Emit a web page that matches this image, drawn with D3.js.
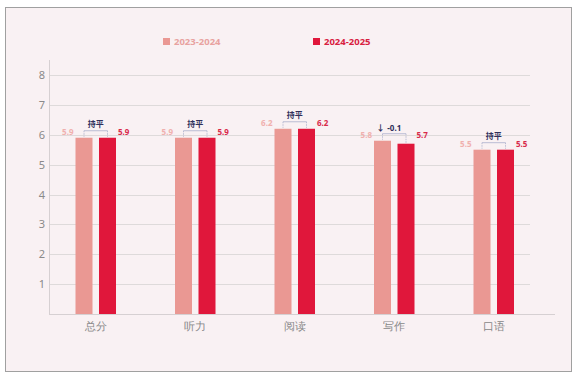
<!DOCTYPE html>
<html><head><meta charset="utf-8">
<script src="https://cdn.jsdelivr.net/npm/d3@7"></script>
<style>body{margin:0;background:#fff;}svg{display:block;font-family:"Noto Sans CJK SC","Noto Sans",sans-serif;}</style>
</head><body><svg id="c" width="578" height="379"></svg>
<script>
const categories = ["总分","听力","阅读","写作","口语"];
const series = ["2023-2024","2024-2025"];
const values2023 = [5.9,5.9,6.2,5.8,5.5];
const values2024 = [5.9,5.9,6.2,5.7,5.5];
const changeLabels = ["持平","持平","持平","-0.1","持平"];
const yTicks = [1,2,3,4,5,6,7,8];

const colors = ["#ea9893","#e0173b"];
const svg = d3.select("#c");
svg.append("rect").attr("x",5.5).attr("y",7.5).attr("width",566).attr("height",364)
  .attr("fill","#f9f1f3").attr("stroke","#a0a0a0").attr("stroke-width",1);

const x = d3.scaleBand().domain(categories).range([46,543.5]);
const y = d3.scaleLinear().domain([0,8]).range([314,75]);
const bw = 17, gap = 6.5;

// grid
svg.append("g").selectAll("line").data(yTicks).join("line")
  .attr("x1",49).attr("x2",530).attr("y1",d=>Math.round(y(d))+0.5).attr("y2",d=>Math.round(y(d))+0.5)
  .attr("stroke","#dedada").attr("stroke-width",1);
// axes lines
svg.append("line").attr("x1",49.5).attr("x2",49.5).attr("y1",60).attr("y2",314.5).attr("stroke","#d6d0d2");
svg.append("line").attr("x1",49).attr("x2",555).attr("y1",314.5).attr("y2",314.5).attr("stroke","#d6d0d2");

const yAxis = d3.axisLeft(y).tickValues(yTicks).tickSize(0).tickPadding(0);
const ya = svg.append("g").attr("transform","translate(45,0)").call(yAxis);
ya.select(".domain").remove();
ya.selectAll("text").attr("fill","#8a8a8a").attr("font-size",11).attr("font-family","'Noto Sans',sans-serif");

const xAxis = d3.axisBottom(x).tickSize(0).tickPadding(0);
const xa = svg.append("g").attr("transform","translate(0,323)").call(xAxis);
xa.select(".domain").remove();
xa.selectAll("text").attr("fill","#888").attr("font-size",10.5);

const cx = c => x(c) + x.bandwidth()/2;
// bars
const g = svg.append("g");
g.selectAll(".b1").data(categories).join("rect")
  .attr("x",c=>cx(c)-gap/2-bw).attr("width",bw)
  .attr("y",(c,i)=>y(values2023[i])).attr("height",(c,i)=>y(0)-y(values2023[i]))
  .attr("fill",colors[0]);
g.selectAll(".b2").data(categories).join("rect")
  .attr("x",c=>cx(c)+gap/2).attr("width",bw)
  .attr("y",(c,i)=>y(values2024[i])).attr("height",(c,i)=>y(0)-y(values2024[i]))
  .attr("fill",colors[1]);

const labelY = i => Math.min(y(values2023[i]), y(values2024[i])) - 3;
// value labels
g.selectAll(".l1").data(categories).join("text")
  .attr("x",c=>cx(c)-gap/2-bw-2).attr("y",(c,i)=>labelY(i))
  .attr("text-anchor","end").attr("font-size",8).attr("font-weight","bold")
  .attr("fill","#f0b0ae").attr("font-family","'Noto Sans',sans-serif")
  .text((c,i)=>values2023[i].toFixed(1));
g.selectAll(".l2").data(categories).join("text")
  .attr("x",c=>cx(c)+gap/2+bw+2).attr("y",(c,i)=>labelY(i))
  .attr("text-anchor","start").attr("font-size",8).attr("font-weight","bold")
  .attr("fill","#d82a4a").attr("font-family","'Noto Sans',sans-serif")
  .text((c,i)=>values2024[i].toFixed(1));

// brackets
categories.forEach((c,i)=>{
  const x1 = cx(c)-gap/2-bw/2, x2 = cx(c)+gap/2+bw/2;
  const top = Math.min(y(values2023[i]), y(values2024[i]));
  const by = top - 7;
  const br = svg.append("g").attr("stroke","#a9aecb").attr("stroke-width",0.8).attr("fill","none");
  br.append("line").attr("x1",x1).attr("x2",x2).attr("y1",by).attr("y2",by);
  br.append("line").attr("x1",x1).attr("x2",x1).attr("y1",by).attr("y2",y(values2023[i])-1).attr("stroke-dasharray","1.5,1");
  br.append("line").attr("x1",x2).attr("x2",x2).attr("y1",by).attr("y2",y(values2024[i])-1).attr("stroke-dasharray","1.5,1");
  const diff = values2024[i]-values2023[i];
  if (Math.abs(diff) < 1e-9) {
    svg.append("text").attr("x",(x1+x2)/2).attr("y",by-4).attr("text-anchor","middle")
      .attr("font-size",8).attr("font-weight","bold").attr("fill","#2f2f5a").text(changeLabels[i]);
  } else {
    svg.append("text").attr("x",x1-2).attr("y",by-3).attr("text-anchor","middle")
      .attr("font-size",8.5).attr("font-weight","bold").attr("fill","#2f2f5a").text("↓");
    svg.append("text").attr("x",(x1+x2)/2).attr("y",by-3).attr("text-anchor","middle")
      .attr("font-size",8).attr("font-weight","bold").attr("fill","#2f2f5a")
      .attr("font-family","'Noto Sans',sans-serif").text(changeLabels[i]);
  }
});

// legend
const legX = [163,313];
const legColors = ["#e8a2a0","#d8203f"];
series.forEach((s,i)=>{
  svg.append("rect").attr("x",legX[i]).attr("y",38).attr("width",7).attr("height",7).attr("fill",colors[i]);
  svg.append("text").attr("x",legX[i]+11).attr("y",45).attr("font-size",9.5).attr("font-weight","bold")
    .attr("fill",legColors[i]).attr("font-family","'Noto Sans',sans-serif").text(s);
});
</script></body></html>
